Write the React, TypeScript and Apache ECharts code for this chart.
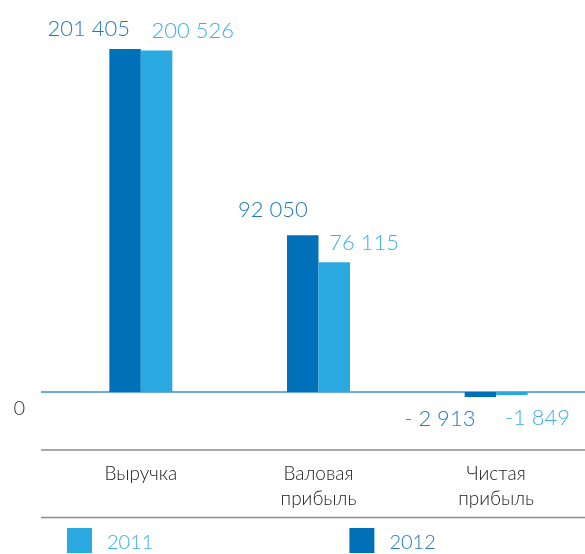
import React, { useEffect, useRef } from "react";
import * as echarts from "echarts";

const categories = ["Выручка", "Валовая\nприбыль", "Чистая\nприбыль"];
const series2012 = [201405, 92050, -2913];
const series2011 = [200526, 76115, -1849];
const labels2012 = ["201 405", "92 050", "- 2 913"];
const labels2011 = ["200 526", "76 115", "-1 849"];
const legendNames = ["2011", "2012"];

const DARK = "#0071b9";
const LIGHT = "#29a9e0";
const DARK_TEXT = "#1f79c1";
const LIGHT_TEXT = "#3cb1e6";
const FONT = "Lato, 'Open Sans', sans-serif";
const W = 300;

export default function App() {
  const ref = useRef<HTMLDivElement>(null);
  useEffect(() => {
    if (!ref.current) return;
    const chart = echarts.init(ref.current, null, { renderer: "svg" });

    const makeData = (vals: number[], labels: string[], dark: boolean) =>
      vals.map((v, i) => {
        const neg = v < 0;
        const item: any = { value: v };
        item.label = {
          formatter: labels[i],
          position: neg ? "bottom" : "top",
          distance: 10,
          align: dark ? "right" : "left",
          offset: dark ? [neg ? -5 : 5, !neg && i === 1 ? -6 : 0] : [neg ? -7 : -5, 0],
        };
        return item;
      });

    const option: any = {
      animation: false,
      grid: { left: 52, top: 17.3, width: 537, height: 408.7 },
      xAxis: {
        type: "category",
        data: categories,
        axisLine: { show: false, onZero: false },
        axisTick: { show: false },
        axisLabel: {
          margin: 34,
          color: "#1a1a1a",
          fontSize: 19,
          fontWeight: W,
          lineHeight: 25,
          fontFamily: FONT,
        },
      },
      yAxis: {
        type: "value",
        min: -20000,
        max: 220000,
        interval: 20000,
        splitLine: { show: false },
        axisLine: { show: false },
        axisTick: { show: false },
        axisLabel: {
          formatter: (v: number) => (v === 0 ? "0" : ""),
          margin: 27,
          color: "#333",
          fontSize: 20,
          fontWeight: W,
          fontFamily: FONT,
          verticalAlign: "top",
          lineHeight: 30,
        },
      },
      legend: {
        left: 67,
        top: 528,
        padding: 0,
        itemWidth: 25,
        itemHeight: 25,
        itemGap: 196,
        icon: "rect",
        textStyle: { fontSize: 20, fontWeight: W, fontFamily: FONT, padding: [0, 0, 0, 10] },
        data: [
          { name: legendNames[0], textStyle: { color: LIGHT_TEXT } },
          { name: legendNames[1], textStyle: { color: DARK_TEXT } },
        ],
      },
      series: [
        {
          name: legendNames[1],
          type: "bar",
          barWidth: 31.5,
          barGap: "0%",
          itemStyle: { color: DARK },
          label: { show: true, color: DARK_TEXT, fontSize: 22, fontWeight: W, fontFamily: FONT },
          data: makeData(series2012, labels2012, true),
        },
        {
          name: legendNames[0],
          type: "bar",
          barWidth: 31.5,
          barGap: "0%",
          itemStyle: { color: LIGHT },
          label: { show: true, color: LIGHT_TEXT, fontSize: 22, fontWeight: W, fontFamily: FONT },
          data: makeData(series2011, labels2011, false),
        },
      ],
    };
    chart.setOption(option);
    const y0 = chart.convertToPixel({ yAxisIndex: 0 }, 0) as number;
    chart.setOption({
      graphic: [
        { type: "line", z: 0, shape: { x1: 41, y1: y0, x2: 585, y2: y0 }, style: { stroke: "#3a8fd4", lineWidth: 1.5 } },
        { type: "line", shape: { x1: 41, y1: 450, x2: 585, y2: 450 }, style: { stroke: "#8c8c8c", lineWidth: 1.6 } },
        { type: "line", shape: { x1: 41, y1: 517.5, x2: 585, y2: 517.5 }, style: { stroke: "#8c8c8c", lineWidth: 1.6 } },
      ],
    });
    return () => chart.dispose();
  }, []);
  return <div ref={ref} style={{ position: "fixed", left: 0, top: 0, width: 585, height: 554 }} />;
}
